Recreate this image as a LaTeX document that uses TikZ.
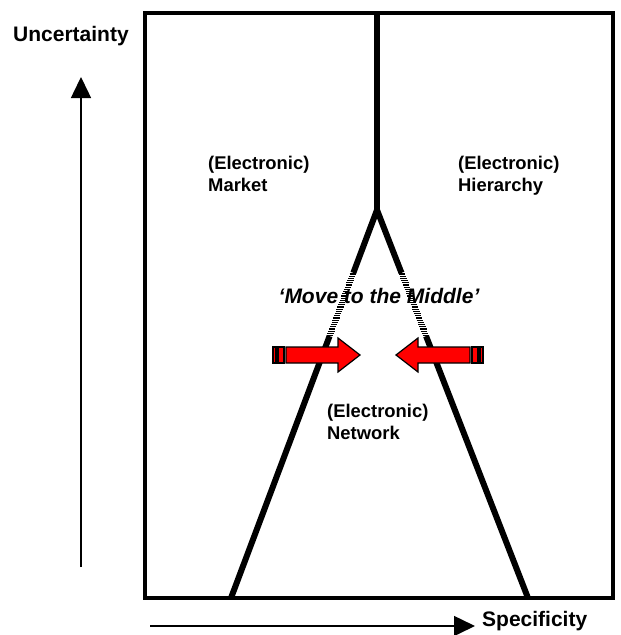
\documentclass[tikz,border=0pt]{standalone}
\usepackage{fontspec}
\setmainfont{Liberation Sans}
\usetikzlibrary{arrows.meta,calc}
\begin{document}
\begin{tikzpicture}[x=1pt,y=-1pt,
  lbl/.style={font=\fontsize{21}{24}\selectfont\bfseries, inner sep=0pt, anchor=base west},
  arealbl/.style={font=\fontsize{18.4}{22}\selectfont\bfseries, inner sep=0pt, anchor=base west},
  movelbl/.style={font=\fontsize{21}{24}\selectfont\bfseries\itshape, inner sep=0pt, anchor=base},
  frame/.style={line width=3.5pt},
  fork/.style={line width=6pt, line join=round},
  stripe/.style={line width=1.2pt},
  axis/.style={line width=1.5pt, -{Triangle[length=21pt,width=20pt]}},
  redarrow/.style={fill=red, draw=black, line width=1.2pt, line join=miter}]
\useasboundingbox (0,0) rectangle (621,635);
% frame
\coordinate (fa) at (145,13);
\coordinate (fb) at (613,598);
\draw[frame] (fa) rectangle (fb);
% fork
\coordinate (top) at (377,13);
\coordinate (apex) at (377,210);
\coordinate (lb) at (231,598);
\coordinate (rb) at (528,598);
\draw[fork] (top) -- (apex);
\draw[fork] ($(apex)!0.162!(lb)$) -- (apex) -- ($(apex)!0.162!(rb)$);
\draw[fork] ($(apex)!0.325!(lb)$) -- (lb);
\draw[fork] ($(apex)!0.325!(rb)$) -- (rb);
\foreach \yy in {274,276.2,...,336}{
  \pgfmathsetmacro{\xl}{377-0.37629*(\yy-210)}
  \pgfmathsetmacro{\xr}{377+0.38918*(\yy-210)}
  \draw[stripe] (\xl-3.2,\yy) -- (\xl+3.2,\yy);
  \draw[stripe] (\xr-3.2,\yy) -- (\xr+3.2,\yy);
}
% labels
\node[movelbl] (move) at (379,303) {‘Move to the Middle’};
\node[arealbl] (mk1) at (208,169) {(Electronic)};
\node[arealbl] (mk2) at (208,191) {Market};
\node[arealbl] (hi1) at (458,169) {(Electronic)};
\node[arealbl] (hi2) at (458,191) {Hierarchy};
\node[arealbl] (nw1) at (327,417) {(Electronic)};
\node[arealbl] (nw2) at (327,439) {Network};
% red arrows
\draw[redarrow] (273,347) rectangle (276,363);
\draw[redarrow] (278,347) rectangle (284,363);
\draw[redarrow] (286,347) -- (338,347) -- (338,338) -- (360,355) -- (338,372) -- (338,363) -- (286,363) -- cycle;
\draw[redarrow] (483,347) rectangle (480,363);
\draw[redarrow] (478,347) rectangle (472,363);
\draw[redarrow] (470,347) -- (418,347) -- (418,338) -- (396,355) -- (418,372) -- (418,363) -- (470,363) -- cycle;
% axes
\coordinate (ua0) at (81,567);
\coordinate (ua1) at (81,77);
\draw[axis] (ua0) -- (ua1);
\coordinate (sa0) at (150,626);
\coordinate (sa1) at (475,626);
\draw[axis] (sa0) -- (sa1);
\node[lbl] (unc) at (13,41) {Uncertainty};
\node[lbl] (spec) at (482,626) {Specificity};
\end{tikzpicture}
\end{document}
